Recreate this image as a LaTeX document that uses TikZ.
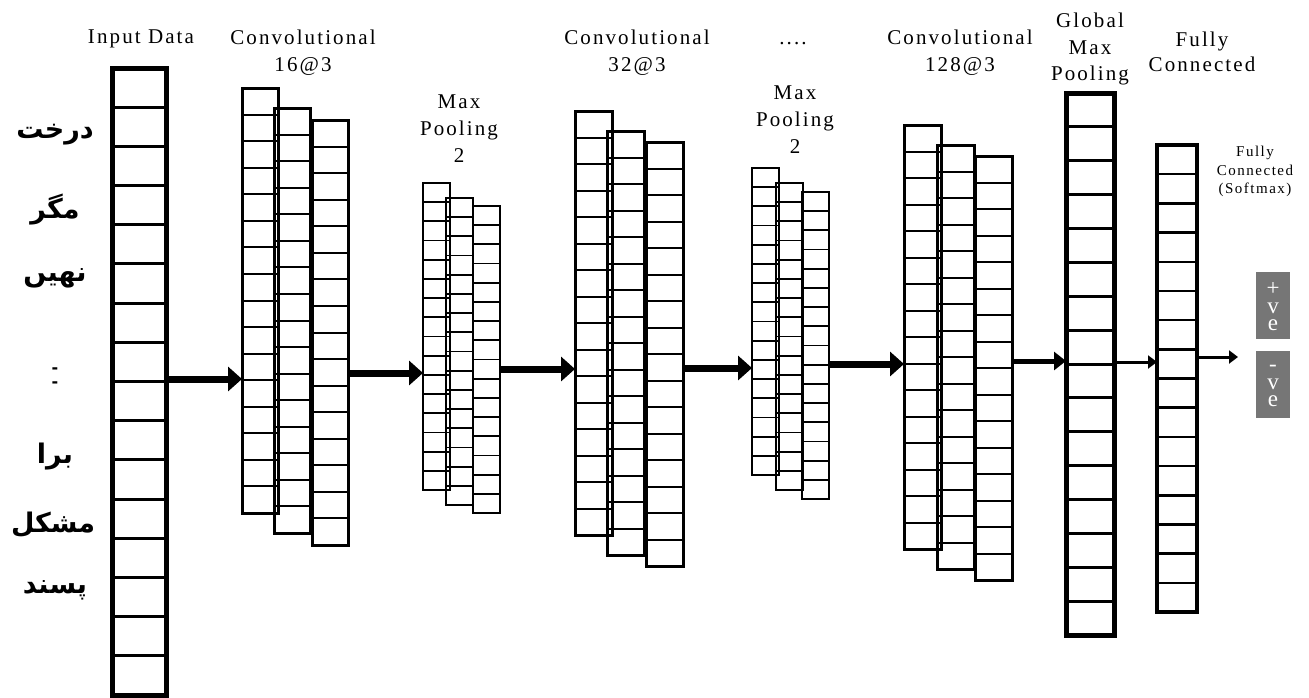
\documentclass[tikz,border=0pt]{standalone}
\usepackage{fontspec}
\usepackage{tikz}
\usetikzlibrary{arrows.meta, positioning}
\TeXXeTstate=1

\setmainfont{Liberation Serif}
\newfontfamily\lblfont[LetterSpace=10]{Liberation Serif}
\newfontfamily\urdufont[Script=Arabic]{DejaVu Sans}

\definecolor{outgray}{HTML}{767676}

\tikzset{
    layer/.style={draw, rectangle, anchor=north west, inner sep=0pt, outer sep=0pt},
    lbl/.style={anchor=north, inner sep=0pt, align=center, font=\lblfont\fontsize{21}{27}\selectfont},
    word/.style={inner sep=0pt, font=\urdufont\bfseries\fontsize{27}{30}\selectfont},
    outbox/.style={fill=outgray, minimum width=34pt, minimum height=67pt, inner sep=0pt},
    outtext/.style={text=white, inner sep=0pt, align=center, font=\fontsize{23}{17.5}\selectfont},
    bigarrow/.style={line width=7pt, -{Triangle[length=14pt,width=24pt]}},
    midarrow/.style={line width=5pt, -{Triangle[length=12pt,width=18pt]}},
    smallarrow/.style={line width=3pt, -{Triangle[length=9pt,width=13pt]}}
}

% one column of 16 cells: name, x, y, width, height, border, row lines
\newcommand{\layercol}[7]{%
    \node[layer, line width=#6pt, minimum width=#4pt, minimum height=#5pt] (#1) at (#2,#3) {};
    \foreach \r in {1,...,15}
        \draw[line width=#7pt] (#2,{#3+\r*#5/16}) -- ++(#4,0);
}

\begin{document}
\begin{tikzpicture}[x=1pt, y=-1pt]
    \useasboundingbox (0,0) rectangle (1309,697);

    % Input sentence
    \node[word] (w1) at (55,135) {\beginR درخت\endR};
    \node[word] (w2) at (55,210) {\beginR مگر\endR};
    \node[word] (w3) at (55,278) {\beginR نهیں\endR};
    \node[word, align=center, font=\urdufont\bfseries\fontsize{16}{14}\selectfont] (w4) at (55,378) {-\\-};
    \node[word] (w5) at (55,457) {\beginR برا\endR};
    \node[word] (w6) at (53,525) {\beginR مشکل\endR};
    \node[word] (w7) at (55,590) {\beginR پسند\endR};

    % Input column
    \layercol{in}{112}{68}{54}{627}{5}{3}

    % Convolutional 16@3
    \layercol{c1a}{242}{88}{36}{425}{3}{2}
    \layercol{c1b}{274}{108}{36}{425}{3}{2}
    \layercol{c1c}{312}{120}{36}{425}{3}{2}

    % Max pooling 2
    \layercol{p1a}{423}{183}{27}{307}{2.5}{1.8}
    \layercol{p1b}{446}{198}{27}{307}{2.5}{1.8}
    \layercol{p1c}{473}{206}{27}{307}{2.5}{1.8}

    % Convolutional 32@3
    \layercol{c2a}{575}{111}{37}{424}{3}{2}
    \layercol{c2b}{607}{131}{37}{424}{3}{2}
    \layercol{c2c}{646}{142}{37}{424}{3}{2}

    % Max pooling 2
    \layercol{p2a}{752}{168}{27}{307}{2.5}{1.8}
    \layercol{p2b}{776}{183}{27}{307}{2.5}{1.8}
    \layercol{p2c}{802}{192}{27}{307}{2.5}{1.8}

    % Convolutional 128@3
    \layercol{c3a}{904}{125}{37}{424}{3}{2}
    \layercol{c3b}{937}{145}{37}{424}{3}{2}
    \layercol{c3c}{975}{156}{37}{424}{3}{2}

    % Global max pooling and fully connected
    \layercol{gmp}{1066}{93}{48}{542}{5}{3}
    \layercol{fc}{1157}{145}{40}{467}{4}{2.5}

    % Outputs
    \node[outbox] (pos) at (1273,305.5) {};
    \node[outbox] (neg) at (1273,384.5) {};
    \node[outtext] (postxt) at (1273,307) {+\\v\\e};
    \node[outtext] (negtxt) at (1273,386) {-\\v\\e};
    \coordinate (outp) at (1238,357);

    % Labels
    \node[lbl] (inlbl) at (141,30) {Input Data};
    \node[lbl] (c1lbl) at (303,30) {Convolutional\\16@3};
    \node[lbl] (p1lbl) at (459,95) {Max\\Pooling\\2};
    \node[lbl] (c2lbl) at (637,30) {Convolutional\\32@3};
    \node[lbl, anchor=base] (dots) at (793,44) {....};
    \node[lbl] (p2lbl) at (795,86) {Max\\Pooling\\2};
    \node[lbl] (c3lbl) at (960,30) {Convolutional\\128@3};
    \node[lbl, font=\lblfont\fontsize{21}{26.5}\selectfont] (gmplbl) at (1090,13) {Global\\Max\\Pooling};
    \node[lbl, font=\lblfont\fontsize{21}{25}\selectfont] (fclbl) at (1202,32) {Fully\\Connected};
    \node[lbl, font=\lblfont\fontsize{15}{18.5}\selectfont] (smlbl) at (1255,146) {Fully\\Connected\\(Softmax)};

    % Arrows between layers
    \draw[bigarrow] (in.east |- 0,379) -- (c1a.west |- 0,379);
    \draw[bigarrow] (c1c.east |- 0,373) -- (p1a.west |- 0,373);
    \draw[bigarrow] (p1c.east |- 0,369) -- (c2a.west |- 0,369);
    \draw[bigarrow] (c2c.east |- 0,368) -- (p2a.west |- 0,368);
    \draw[bigarrow] (p2c.east |- 0,364) -- (c3a.west |- 0,364);
    \draw[midarrow] (c3c.east |- 0,361) -- (gmp.west |- 0,361);
    \draw[smallarrow] (gmp.east |- 0,362) -- (fc.west |- 0,362);
    \draw[smallarrow] (fc.east |- outp) -- (outp);
\end{tikzpicture}
\end{document}
